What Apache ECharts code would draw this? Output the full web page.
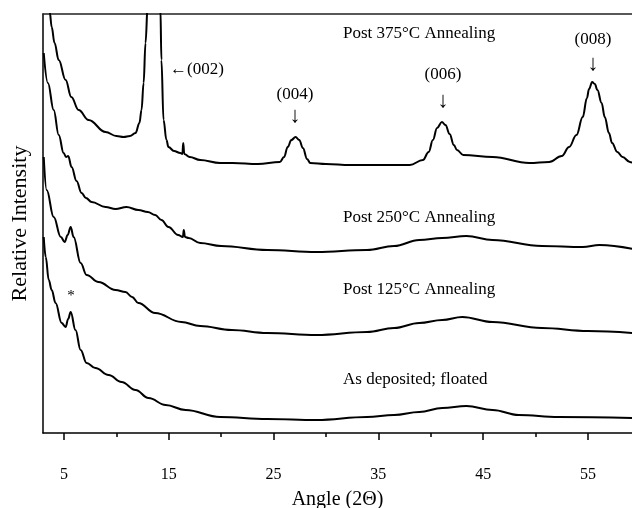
<!DOCTYPE html>
<html>
<head>
<meta charset="utf-8">
<script src="https://cdn.jsdelivr.net/npm/echarts@6/dist/echarts.min.js"></script>
<style>html,body{margin:0;padding:0;background:#fff}#c{width:632px;height:508px}</style>
</head>
<body>
<div id="c"></div>
<script>
// 2θ ticks
const majorTicks = [5, 15, 25, 35, 45, 55];
const minorTicks = [10, 20, 30, 40, 50];

// [2θ, relative intensity (offset-stacked, arbitrary units)]
const post375 = [
  [3.5,430],[3.64,421],[3.83,406],[4.1,390],[4.5,373],[5.16,353],[5.7,336],[6.4,323],[7.35,313],[8.97,301],[10.0,297],[10.69,296],[11.3,297],[11.83,300],
  [12.2,310],[12.4,323],[12.6,350],[12.78,390],[13.0,430],[13.3,600],[13.6,800],[13.9,600],[14.2,425],
  [14.3,373],[14.5,313],[14.78,293],[14.97,286],[15.5,282],[16.1,280],[16.3,279],[16.38,290],[16.48,279],
  [17.0,276],[18.0,273],[19.9,270],[21.1,270],[23.5,269],[25.6,271],[26.0,276],[26.35,286],[26.7,293],[27.1,296],
  [27.45,293],[27.8,285],[28.2,274],[28.5,270],[30.0,269],[32.3,268],[35.0,268],[38.0,268],[39.25,273],
  [39.8,281],[40.2,293],[40.6,305],[41.06,311],[41.4,308],[41.8,299],[42.2,288],[42.5,283],[43.1,278],
  [45.9,276],[49.4,270],[51.3,271],[52.5,277],[53.2,286],[53.9,298],[54.5,316],[54.9,335],[55.1,344],[55.4,351],
  [55.65,349],[55.9,343],[56.3,330],[56.6,316],[57.0,300],[57.3,290],[57.8,281],[58.3,276],[59.0,271],[59.3,270]
];
const post250 = [
  [3.07,380],[3.47,350],[4.02,323],[4.5,298],[4.97,280],[5.2,276],[5.4,277],[5.73,266],[6.2,252],[6.68,240],
  [7.1,235],[7.64,231],[8.97,226],[9.92,224],[10.97,226],[12.1,223],[13.0,221],[13.7,218],[14.3,213],[14.97,206],[15.9,198],
  [16.35,196],[16.43,203],[16.55,196],[16.9,195],[18.0,190],[20.0,187],[24.4,183],[29.1,181],[33.9,183],
  [36.5,187],[38.9,193],[41.1,195],[43.4,197],[45.9,193],[50.6,187],[54.5,186],[56.1,188],[59.3,184]
];
const post125 = [
  [3.07,276],[3.35,243],[4.02,216],[4.7,196],[5.07,191],[5.35,198],[5.64,206],[5.92,196],[6.59,170],[7.16,158],
  [8.3,151],[9.92,143],[10.87,141],[11.5,136],[12.1,130],[13.7,120],[16.2,111],[18.0,107],[21.0,103],[24.4,100],
  [29.1,98],[33.9,101],[36.5,105],[38.9,110],[41.1,113],[43.0,116],[45.9,111],[50.6,105],[55.0,102],[59.3,100]
];
const asDeposited = [
  [3.07,196],[3.26,176],[3.55,153],[3.83,143],[4.2,130],[4.78,110],[5.16,106],[5.4,114],[5.64,121],[6.1,103],
  [6.59,83],[7.16,70],[8.0,65],[9.26,58],[10.5,51],[11.83,43],[13.07,35],[14.7,28],[16.6,23],[19.9,16],
  [24.4,14],[29.1,13],[33.9,16],[36.5,18],[38.9,21],[41.1,25],[43.4,27],[45.9,23],[48.4,18],[52.2,16],[59.3,15]
];

const serif = '"Liberation Serif", "DejaVu Serif", serif';
const lineStyle = { color: '#000', width: 2 };
function mk(name, data) {
  return { name, type: 'line', data, xAxisIndex: 0, yAxisIndex: 0, showSymbol: false, symbol: 'none',
    smooth: 0.4, smoothMonotone: 'x', lineStyle, clip: true, silent: true, animation: false };
}

const chart = echarts.init(document.getElementById('c'), null, { renderer: 'canvas' });
const annot = (text, x, y, align, size) => ({
  type: 'text', x, y,
  style: { text, font: (size || 17) + 'px ' + serif, fill: '#000', textAlign: align || 'left', textVerticalAlign: 'middle' }
});
chart.setOption({
  animation: false,
  backgroundColor: '#fff',
  grid: { left: 43, top: 14, right: 0, bottom: 75, containLabel: false, outerBoundsMode: 'none' },
  xAxis: [
    { type: 'value', position: 'bottom', min: 3, max: 59.2,
      axisLine: { show: true, lineStyle: { color: '#000', width: 1.5 } },
      axisTick: { show: true, customValues: majorTicks, length: 7, lineStyle: { color: '#000', width: 1.5 } },
      axisLabel: { show: true, customValues: majorTicks, margin: 34, color: '#000', fontSize: 16, fontFamily: serif },
      splitLine: { show: false },
      name: 'Angle (2\u0398)', nameLocation: 'middle', nameGap: 57,
      nameTextStyle: { color: '#000', fontSize: 20, fontFamily: serif } },
    { type: 'value', position: 'bottom', min: 3, max: 59.2,
      axisLine: { show: false },
      axisTick: { show: true, customValues: minorTicks, length: 4, lineStyle: { color: '#000', width: 1.5 } },
      axisLabel: { show: false }, splitLine: { show: false } },
    { type: 'value', position: 'top', min: 3, max: 59.2,
      axisLine: { show: true, lineStyle: { color: '#222', width: 1.5 } },
      axisTick: { show: false }, axisLabel: { show: false }, splitLine: { show: false } }
  ],
  yAxis: [
    { type: 'value', min: 0, max: 419,
      axisLine: { show: true, lineStyle: { color: '#000', width: 1.5 } },
      axisTick: { show: false }, axisLabel: { show: false }, splitLine: { show: false },
      name: 'Relative Intensity', nameLocation: 'middle', nameGap: 12, nameRotate: 90,
      nameTextStyle: { color: '#000', fontSize: 22, fontFamily: serif } }
  ],
  series: [
    mk('Post 375°C Annealing', post375),
    mk('Post 250°C Annealing', post250),
    mk('Post 125°C Annealing', post125),
    mk('As deposited; floated', asDeposited)
  ],
  graphic: [
    annot('Post 375\u00B0C Annealing', 343, 34),
    annot('Post 250\u00B0C Annealing', 343, 218),
    annot('Post 125\u00B0C Annealing', 343, 290),
    annot('As deposited; floated', 343, 380),
    annot('\u2190(002)', 170, 70),
    annot('(004)', 295, 95, 'center'),
    annot('\u2193', 295, 116, 'center', 22),
    annot('(006)', 443, 75, 'center'),
    annot('\u2193', 443, 101, 'center', 22),
    annot('(008)', 593, 40, 'center'),
    annot('\u2193', 593, 64, 'center', 22),
    annot('*', 71, 296, 'center', 15)
  ]
});
</script>
</body>
</html>
